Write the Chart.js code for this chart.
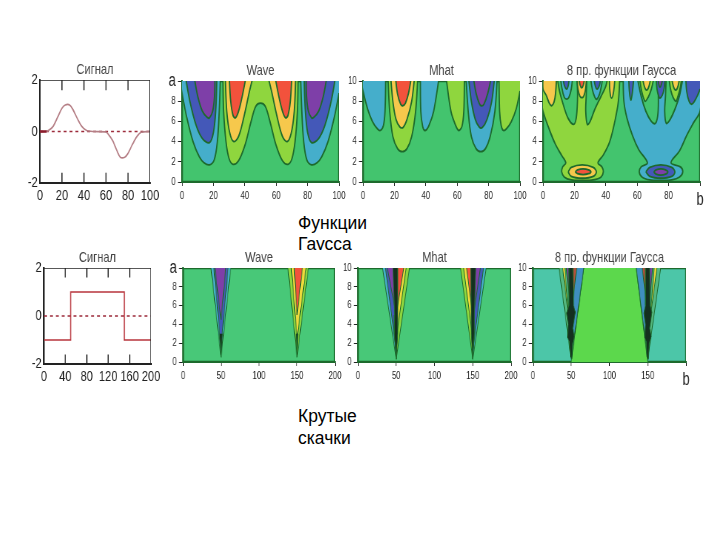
<!DOCTYPE html>
<html>
<head>
<meta charset="utf-8">
<title>Вейвлеты</title>
<script src="https://cdn.jsdelivr.net/npm/chart.js@4"></script>
<style>
  body { margin: 0; background: #fff; width: 720px; height: 540px; overflow: hidden; position: relative; }
  canvas { position: absolute; filter: blur(0.35px); }
  .caption { position: absolute; left: 298px; width: 90px; font: 17.5px/21px "Liberation Sans", Arial, sans-serif; color: #000; overflow: hidden; }
</style>
</head>
<body>
<div class="caption" style="top:213px;height:37px">Функции Гаусса</div>
<div class="caption" style="top:405px;height:43px;line-height:22px">Крутые скачки</div>
<script>
// colours of the contour bands
const GREEN = "#43c46e", LIME = "#8fd63e", ORANGE = "#f6c84c", RED = "#f2523c";
const TEAL = "#45aecb", BLUE = "#4458b8", PURPLE = "#7e3fa8", DARK = "#14301f";
const LINE = "#1d6a2c";

// signals
const signal1X = [0, 5, 8, 12, 16, 20, 23, 27, 30, 34, 38, 42, 48, 60, 62, 66, 70, 73, 77, 80, 84, 88, 92, 100];
const signal1Y = [0, 0, 0.05, 0.2, 0.55, 0.9, 1.03, 1.03, 0.85, 0.5, 0.2, 0.05, 0, -0.02, -0.1, -0.35, -0.75, -1, -1, -0.85, -0.5, -0.2, -0.03, 0];
const signal2X = [0, 50, 50, 150, 150, 200];
const signal2Y = [-1, -1, 1, 1, -1, -1];
const signal1StartX = [0, 6];
const signal1StartY = [0, 0];

// tick labels
const signal1XLabels = ["0", "20", "40", "60", "80", "100"];
const signal2XLabels = ["0", "40", "80", "120", "160", "200"];
const signalYLabels = ["-2", "0", "2"];
const aLabels = ["0", "2", "4", "6", "8", "10"];
const aLabelsWave = ["0", "2", "4", "6", "8", "a"];
const b1Labels = ["0", "20", "40", "60", "80", "100"];
const b1LabelsEnd = ["0", "20", "40", "60", "80", "b"];
const b2Labels = ["0", "50", "100", "150", "200"];
const b2LabelsEnd = ["0", "50", "100", "150", "b"];

// Wave, top row
const waveTealL = [[-2, 10.6], [0, 8.8], [3, 6.4], [7, 4], [11, 2.5], [14, 1.9], [17.5, 1.7], [20.5, 2.2], [22.5, 4], [23.7, 7], [24.5, 10.6]];
const waveBlueL = [[2, 10.6], [5, 8], [9, 5.6], [13, 4.3], [17.5, 3.9], [20, 4.9], [21.5, 7.2], [22.3, 10.6]];
const wavePurpleL = [[7.5, 10.6], [10, 8.5], [13, 7], [16, 6.4], [17.5, 6.35], [19.5, 7], [20.7, 8.5], [21, 10.6]];
const waveLime = [[26, 10.6], [26.5, 7], [28, 4], [30, 2.3], [32.5, 1.75], [36, 2.1], [40, 3.6], [44, 6], [47, 7.5], [50, 7.8], [53, 7.5], [56, 6], [60, 3.6], [64, 2.1], [67.5, 1.75], [70, 2.3], [72, 4], [73.5, 7], [74, 10.6]];
const waveOrangeL = [[27.5, 10.6], [28.5, 7], [30.5, 4.8], [33, 4], [36, 4.5], [39.5, 6.5], [43, 9], [45.5, 10.6]];
const waveRedL = [[30, 10.6], [31, 8], [32.5, 6.6], [34, 6.35], [36, 7], [38.5, 8.6], [41, 10.6]];
const waveOrangeR = [[54.5, 10.6], [57, 9], [60.5, 6.5], [64, 4.5], [67, 4], [69.5, 4.8], [71.5, 7], [72.5, 10.6]];
const waveRedR = [[59, 10.6], [61.5, 8.6], [64, 7], [66, 6.35], [67.5, 6.6], [69, 8], [70, 10.6]];
const waveTealR = [[75.5, 10.6], [76.3, 7], [77.5, 4], [79.5, 2.2], [82.5, 1.7], [86, 1.9], [89, 2.5], [93, 4], [97, 6.4], [100, 8.8], [102, 10.6]];
const waveBlueR = [[77.7, 10.6], [78.5, 7.2], [80, 4.9], [82.5, 3.9], [87, 4.3], [91, 5.6], [95, 8], [98, 10.6]];
const wavePurpleR = [[79, 10.6], [79.3, 8.5], [80.5, 7], [82.5, 6.35], [84, 6.4], [87, 7], [90, 8.5], [92.5, 10.6]];

// Mhat, top row
const mhatTeal1 = [[-2, 10.6], [0, 9], [3, 7.2], [6, 6], [9, 5.3], [11, 5.1], [13, 5.6], [14, 7], [14.5, 10.6]];
const mhatLime1 = [[15.8, 10.6], [17, 7], [19, 4.5], [22, 3.3], [25, 3], [28, 3.3], [31, 4.5], [33.5, 7], [35, 10.6]];
const mhatOrange1 = [[17.5, 10.6], [19, 8], [21, 6.2], [23.5, 5.45], [25.5, 5.4], [28, 6.2], [31, 8], [33, 10.6]];
const mhatRed1 = [[20.5, 10.6], [22, 8.7], [24, 7.7], [25.3, 7.55], [27, 7.8], [29, 8.8], [31, 10.6]];
const mhatTeal2 = [[36.5, 10.6], [36.8, 7], [38, 5.5], [39.6, 5.1], [42, 5.6], [45, 7], [48.7, 10.6]];
const mhatLime2 = [[52.7, 10.6], [56, 7], [59, 5.6], [61, 5.1], [63, 5.5], [64.2, 7], [64.6, 10.6]];
const mhatTeal3 = [[65.5, 10.6], [67, 7], [69, 4.5], [72, 3.3], [75, 3], [78, 3.3], [81, 4.5], [84, 7], [85.6, 10.6]];
const mhatBlue3 = [[67, 10.6], [69, 8], [71.5, 6.2], [74, 5.45], [76, 5.4], [79, 6.2], [82, 8], [84, 10.6]];
const mhatPurple3 = [[70, 10.6], [72, 8.8], [74, 7.8], [75.3, 7.55], [77, 7.7], [79.5, 8.8], [82, 10.6]];
const mhatLime4 = [[86.6, 10.6], [87, 7], [88, 5.6], [89.4, 5.1], [91.5, 5.3], [94.5, 6], [97.5, 7.2], [100, 9], [102, 10.6]];

// 8th derivative of the Gauss function, top row
const gaussLime = [[-2, 10.6], [-1, 8], [0, 7], [4, 5.2], [8, 3.7], [12, 2.6], [14.5, 1.9], [12.5, 1.5], [11.9, 1], [13.5, 0.5], [18, 0.2], [25, 0.15], [32, 0.2], [37, 0.5], [38.4, 1], [37.5, 1.5], [35, 1.9], [38.5, 2.7], [42.5, 4], [46, 6.2], [48, 8], [49, 10.6]];
const gaussYellowRing = [[16, 1], [18, 0.55], [25, 0.37], [32, 0.55], [34, 1], [32, 1.45], [25, 1.7], [18, 1.45], [16, 1]];
const gaussRedRing = [[20.5, 1], [22, 0.82], [25.5, 0.74], [29, 0.82], [30.5, 1], [29, 1.2], [25.5, 1.3], [22, 1.2], [20.5, 1]];
const gaussYellowEdge = [[0, 10.6], [0, 9.2], [2, 8.6], [4, 7.8], [5.5, 7.55], [7, 7.9], [8, 8.8], [8.7, 10.6]];
const gaussFingerL = [[8.8, 10.6], [10.5, 9], [13, 7.6], [16, 6.3], [19.5, 5.7], [21, 6.2], [21.8, 7.5], [22, 8.8], [21.5, 10.6]];
const gaussFingerLTeal = [[10.9, 10.6], [12, 9.3], [13.5, 8.4], [15, 8.2], [16.5, 8.4], [18, 9.2], [19, 10.6]];
const gaussFingerLBlue = [[12.4, 10.6], [13.5, 9.6], [15, 9.2], [16, 9.5], [17, 10.6]];
const gaussMidOrange = [[21.4, 10.6], [22.3, 9.2], [23.5, 8.5], [25, 8.35], [26.2, 8.6], [27.2, 9.3], [27.8, 10.6]];
const gaussMidRed = [[22.5, 10.6], [23.6, 9.6], [24.6, 9.33], [25.7, 9.6], [26.8, 10.6]];
const gaussFingerR = [[28, 10.6], [27.5, 8.5], [27.2, 7], [28.2, 5.7], [30, 6], [33, 7.2], [37, 8.5], [40, 9.5], [41.5, 10.6]];
const gaussFingerRTeal = [[30, 10.6], [31.5, 9.1], [33, 8.4], [34.3, 8.2], [36, 8.7], [37.2, 9.5], [38.2, 10.6]];
const gaussFingerRBlue = [[32, 10.6], [33.3, 9.5], [34.5, 9.2], [36, 9.6], [37, 10.6]];
const gaussLimeDrop = [[42.2, 10.6], [42.6, 9], [43.7, 8.3], [45, 9], [46, 10.6]];
const gaussTeal = [[51, 10.6], [51.5, 8], [53.5, 6.3], [57, 4.6], [61, 3.2], [66.5, 1.9], [62.5, 1.5], [61.3, 1], [63, 0.5], [68, 0.2], [75, 0.15], [82, 0.2], [87, 0.5], [89, 1], [87.5, 1.5], [81.5, 1.9], [87, 3.1], [91.5, 4.6], [96, 5.9], [100, 7], [102, 10.6]];
const gaussBlueRing = [[65.5, 1], [68, 0.55], [75, 0.37], [82, 0.55], [84, 1], [82, 1.45], [75, 1.7], [68, 1.45], [65.5, 1]];
const gaussPurpleRing = [[70.5, 1], [72, 0.78], [75, 0.68], [78, 0.78], [79.5, 1], [78, 1.2], [75, 1.3], [72, 1.2], [70.5, 1]];
const gaussBlueDrop = [[54.5, 10.6], [55, 9], [56, 8.1], [57, 9], [58, 10.6]];
const gaussFinger3 = [[59.7, 10.6], [62.5, 8.5], [65.5, 7], [69, 6], [71.5, 5.8], [73, 6.5], [73.5, 8], [73, 10.6]];
const gaussFinger3Lime = [[61.3, 10.6], [62.8, 9], [65, 8], [67, 8.4], [69, 9.2], [71, 10.6]];
const gaussFinger3Yellow = [[63, 10.6], [64.5, 9.5], [66, 9.1], [67.5, 9.5], [69, 10.6]];
const gaussMidBlue = [[72, 10.6], [72.6, 9.2], [73.7, 8.5], [74.5, 8.3], [76, 8.6], [77.2, 9.3], [78, 10.6]];
const gaussMidPurple = [[73, 10.6], [73.7, 9.7], [74.5, 9.4], [75.5, 9.7], [76.5, 10.6]];
const gaussFinger4 = [[78.5, 10.6], [78, 8.5], [77.5, 7], [78.5, 5.8], [81, 6.2], [84, 7.2], [87, 8.6], [89.5, 10.6]];
const gaussFinger4Lime = [[80, 10.6], [81.5, 9], [84.5, 8], [86, 8.5], [87.5, 9.4], [88.5, 10.6]];
const gaussFinger4Yellow = [[81.5, 10.6], [83, 9.5], [84.5, 9.1], [86, 9.5], [87.3, 10.6]];
const gaussBlueEdge = [[90.8, 10.6], [91.5, 9], [93, 8], [94.7, 7.7], [96.5, 8], [98.5, 8.6], [100, 9.2], [102, 10.6]];

// Wave, bottom row
const stepWaveTealL = [[36, 10.6], [50, 0.5], [63.5, 10.6]];
const stepWaveBlueL = [[40, 10.6], [50, 1.5], [60, 10.6]];
const stepWavePurpleL = [[41, 10.6], [50, 4.5], [57, 10.6]];
const stepWaveDarkL = [[48, 3], [50, 0.8], [52, 3]];
const stepWaveLimeR = [[137.4, 10.6], [150, 0.5], [166, 10.6]];
const stepWaveYellowR = [[142, 10.6], [150, 2.5], [163, 10.6]];
const stepWaveRedR = [[146, 10.6], [150, 5], [158, 10.6]];
const stepWaveDarkR = [[148.8, 3], [150, 0.8], [151.2, 3]];

// Mhat, bottom row
const stepMhatCoolL = [[31, 10.6], [50, 0.3], [50, 10.6]];
const stepMhatBlueL = [[35, 10.6], [50, 1.2], [50, 10.6]];
const stepMhatPurpleL = [[37, 10.6], [50, 5], [46, 10.6]];
const stepMhatDarkL = [[45.5, 10.6], [48, 5], [47.5, 3], [50, 0.3], [52, 3], [52, 10.6]];
const stepMhatLimeL = [[50, 0.3], [68.4, 10.6], [50, 10.6]];
const stepMhatYellowL = [[50, 2.5], [64, 10.6], [50, 10.6]];
const stepMhatRedL = [[51, 5.5], [61, 10.6], [52, 10.6]];
const stepMhatLimeR = [[133, 10.6], [150, 0.3], [150, 10.6]];
const stepMhatYellowR = [[137, 10.6], [150, 2.5], [150, 10.6]];
const stepMhatRedR = [[141, 10.6], [149, 5.5], [148, 10.6]];
const stepMhatCoolR = [[150, 0.3], [168.6, 10.6], [150, 10.6]];
const stepMhatBlueR = [[150, 1.2], [165, 10.6], [150, 10.6]];
const stepMhatPurpleR = [[151, 5], [161, 10.6], [154, 10.6]];
const stepMhatDarkR = [[147.5, 10.6], [148, 3], [150, 0.3], [152, 3], [152, 5], [154, 10.6]];

// 8th derivative, bottom row
const stepGaussMid = [[50, 0], [67.5, 10.6], [134, 10.6], [150, 0]];
const stepGaussCoolL = [[50, 0.3], [67.5, 10.6], [50, 10.6]];
const stepGaussGreenL = [[33, 10.6], [50, 0.3], [50, 10.6]];
const stepGaussYellowL = [[38, 10.6], [47, 4.5], [41, 10.6]];
const stepGaussPurpleL = [[43, 10.6], [49, 5], [50, 10.6]];
const stepGaussRedL = [[52, 10.6], [51.5, 6], [58, 10.6]];
const stepGaussDarkL = [[46.5, 10.6], [47, 6], [44, 5.2], [46, 4], [45, 2.6], [47.5, 2.2], [49, 0.5], [51, 0.3], [52, 2], [54, 2.7], [52, 3.6], [55.5, 5.3], [53, 6], [52, 10.6]];
const stepGaussCoolR = [[134, 10.6], [150, 0.3], [150, 10.6]];
const stepGaussGreenR = [[150, 0.3], [168, 10.6], [150, 10.6]];
const stepGaussYellowR = [[159, 10.6], [153, 4.5], [163, 10.6]];
const stepGaussPurpleR = [[150, 10.6], [151, 5], [157, 10.6]];
const stepGaussRedR = [[142, 10.6], [148.5, 6], [148, 10.6]];
const stepGaussDarkR = [[147.5, 10.6], [147, 6], [145, 5.2], [147, 4], [146, 2.6], [148, 2.2], [149, 0.5], [151, 0.3], [152, 2], [154.5, 2.7], [152.5, 3.6], [155.5, 5.3], [153, 6], [152.5, 10.6]];

const FONT = '"Liberation Sans", Arial, sans-serif';
// the canvases are drawn wider than shown, which gives the condensed lettering of the original
const SQUEEZE = 1.35;

function layer(points, color, tension, width) {
  return {
    data: points.map(p => ({ x: p[0], y: p[1] })),
    showLine: true, fill: "shape", backgroundColor: color, borderColor: LINE,
    borderWidth: width, tension: tension, pointRadius: 0
  };
}

function curve(xs, ys, color, width, dash, tension) {
  return {
    data: xs.map((x, i) => ({ x: x, y: ys[i] })),
    showLine: true, fill: false, borderColor: color, borderWidth: width,
    borderDash: dash || [], tension: tension || 0, pointRadius: 0
  };
}

// box = [left, top, right, bottom] of the plot inside the page
function makeChart(box, o) {
  const gutter = 46, right = 20, below = 24, above = 20;
  const canvas = document.createElement("canvas");
  const w = box[2] - box[0] + gutter + right, h = box[3] - box[1] + above + below;
  canvas.style.left = (box[0] - gutter) + "px";
  canvas.style.top = (box[1] - above) + "px";
  canvas.style.width = w + "px";
  canvas.style.height = h + "px";
  canvas.width = Math.round(w * SQUEEZE);
  canvas.height = h;
  document.body.appendChild(canvas);
  const fontFor = ctx => {
    const label = ctx.tick && ctx.tick.label;
    return { family: FONT, size: label === "a" || label === "b" ? o.tickSize + 7 : o.tickSize };
  };
  new Chart(canvas, {
    type: "scatter",
    data: { datasets: o.datasets.slice().reverse() },
    options: {
      responsive: false, animation: false, devicePixelRatio: 1,
      layout: { padding: { right: right * SQUEEZE } },
      plugins: {
        legend: { display: false }, tooltip: { enabled: false },
        title: { display: true, text: o.title, color: "#444", fullSize: false,
          font: { family: FONT, size: 15, weight: "normal", lineHeight: 1.2 }, padding: { top: 1, bottom: 1 } }
      },
      scales: {
        x: {
          type: "linear", min: 0, max: o.xMax,
          afterFit: s => { s.height = below; },
          grid: { drawOnChartArea: false, tickLength: o.tickLen, color: "#222" },
          border: { color: o.frame, width: 2 },
          ticks: { stepSize: o.xStep, autoSkip: false, maxRotation: 0, color: "#222", padding: 4, font: fontFor,
            callback: (v, i) => o.xLabels[i] }
        },
        y: {
          type: "linear", min: o.yMin, max: o.yMax,
          afterFit: s => { s.width = gutter * SQUEEZE; },
          grid: { drawOnChartArea: false, tickLength: o.tickLen * SQUEEZE, color: "#222" },
          border: { color: o.frame, width: 2 },
          ticks: { stepSize: o.yStep, autoSkip: false, color: "#222", padding: 3, font: fontFor,
            callback: (v, i) => o.yLabels[i] }
        }
      }
    }
  });
}

function contourChart(box, title, back, shapes, tension, width, xMax, xStep, xLabels, yLabels) {
  const frame = [[0, 0], [xMax, 0], [xMax, 10], [0, 10], [0, 0]];
  const datasets = [layer(frame, back, 0, 2.4)].concat(shapes.map(s => layer(s[0], s[1], tension, width)));
  makeChart(box, { title, datasets, frame: LINE, tickLen: 4, tickSize: 10.5,
    xMax, xStep, xLabels, yMin: 0, yMax: 10, yStep: 2, yLabels });
}

function signalChart(box, xs, ys, xMax, xStep, xLabels, innerTicks, color, tension, extra) {
  const datasets = [
    curve([0, xMax], [0, 0], "#9c2a3a", 1.5, [4, 4]),
    curve(xs, ys, color, 1.7, [], tension)
  ].concat(extra);
  // short marks that the original draws inside the frame
  innerTicks.forEach(t => {
    datasets.push(curve([t, t], [2, 1.6], "#222", 1.5));
    datasets.push(curve([t, t], [-2, -1.6], "#222", 1.5));
  });
  datasets.push(curve([0, xMax, xMax], [2, 2, -2], "#222", 1.7));
  makeChart(box, { title: "Сигнал", datasets, frame: "#222", tickLen: 0, tickSize: 15,
    xMax, xStep, xLabels, yMin: -2, yMax: 2, yStep: 2, yLabels: signalYLabels });
}

// top row: Gauss functions
signalChart([40, 80, 150, 183], signal1X, signal1Y, 100, 20, signal1XLabels, [20, 40, 60, 80], "#b57f86", 0.3,
  [curve(signal1StartX, signal1StartY, "#8c1c2c", 2.5)]);
contourChart([182, 81, 339, 182], "Wave", GREEN, [
  [waveTealL, TEAL], [waveBlueL, BLUE], [wavePurpleL, PURPLE],
  [waveLime, LIME], [waveOrangeL, ORANGE], [waveRedL, RED], [waveOrangeR, ORANGE], [waveRedR, RED],
  [waveTealR, TEAL], [waveBlueR, BLUE], [wavePurpleR, PURPLE]
], 0.35, 1.8, 100, 20, b1Labels, aLabelsWave);
contourChart([363, 81, 520, 182], "Mhat", GREEN, [
  [mhatTeal1, TEAL], [mhatLime1, LIME], [mhatOrange1, ORANGE], [mhatRed1, RED],
  [mhatTeal2, TEAL], [mhatLime2, LIME], [mhatTeal3, TEAL], [mhatBlue3, BLUE], [mhatPurple3, PURPLE], [mhatLime4, LIME]
], 0.35, 1.8, 100, 20, b1Labels, aLabels);
contourChart([543, 81, 700, 182], "8 пр. функции Гаусса", GREEN, [
  [gaussLime, LIME], [gaussYellowRing, ORANGE], [gaussRedRing, RED], [gaussYellowEdge, ORANGE],
  [gaussFingerL, GREEN], [gaussFingerLTeal, TEAL], [gaussFingerLBlue, BLUE],
  [gaussMidOrange, ORANGE], [gaussMidRed, RED],
  [gaussFingerR, GREEN], [gaussFingerRTeal, TEAL], [gaussFingerRBlue, BLUE], [gaussLimeDrop, ORANGE],
  [gaussTeal, TEAL], [gaussBlueRing, BLUE], [gaussPurpleRing, PURPLE], [gaussBlueDrop, BLUE],
  [gaussFinger3, GREEN], [gaussFinger3Lime, LIME], [gaussFinger3Yellow, ORANGE],
  [gaussMidBlue, BLUE], [gaussMidPurple, PURPLE],
  [gaussFinger4, GREEN], [gaussFinger4Lime, LIME], [gaussFinger4Yellow, ORANGE], [gaussBlueEdge, BLUE]
], 0.35, 1.8, 100, 20, b1LabelsEnd, aLabels);

// bottom row: sharp steps
signalChart([44, 268, 151, 364], signal2X, signal2Y, 200, 40, signal2XLabels, [40, 80, 120, 160], "#b8343c", 0, []);
contourChart([183, 268, 335, 362], "Wave", "#48c878", [
  [stepWaveTealL, TEAL], [stepWaveBlueL, BLUE], [stepWavePurpleL, PURPLE], [stepWaveDarkL, DARK],
  [stepWaveLimeR, LIME], [stepWaveYellowR, "#eeda3c"], [stepWaveRedR, RED], [stepWaveDarkR, DARK]
], 0, 1, 200, 50, b2Labels, aLabelsWave);
contourChart([358, 268, 511, 362], "Mhat", "#48c878", [
  [stepMhatCoolL, TEAL], [stepMhatBlueL, BLUE], [stepMhatLimeL, LIME], [stepMhatYellowL, "#eeda3c"], [stepMhatRedL, RED],
  [stepMhatPurpleL, PURPLE], [stepMhatDarkL, DARK],
  [stepMhatLimeR, LIME], [stepMhatYellowR, "#eeda3c"], [stepMhatRedR, RED],
  [stepMhatCoolR, TEAL], [stepMhatBlueR, BLUE], [stepMhatPurpleR, PURPLE], [stepMhatDarkR, DARK]
], 0, 1, 200, 50, b2Labels, aLabels);
contourChart([533, 268, 686, 362], "8 пр. функции Гаусса", "#4cc6a8", [
  [stepGaussMid, "#5cd84c"],
  [stepGaussGreenL, "#55b880"], [stepGaussCoolL, "#3f8fc0"], [stepGaussYellowL, "#eeda3c"], [stepGaussPurpleL, PURPLE], [stepGaussRedL, "#b0503c"], [stepGaussDarkL, DARK],
  [stepGaussCoolR, "#3f8fc0"], [stepGaussGreenR, "#55b880"], [stepGaussYellowR, "#eeda3c"], [stepGaussPurpleR, PURPLE], [stepGaussRedR, "#b0503c"], [stepGaussDarkR, DARK]
], 0, 1, 200, 50, b2LabelsEnd, aLabels);
</script>
</body>
</html>
